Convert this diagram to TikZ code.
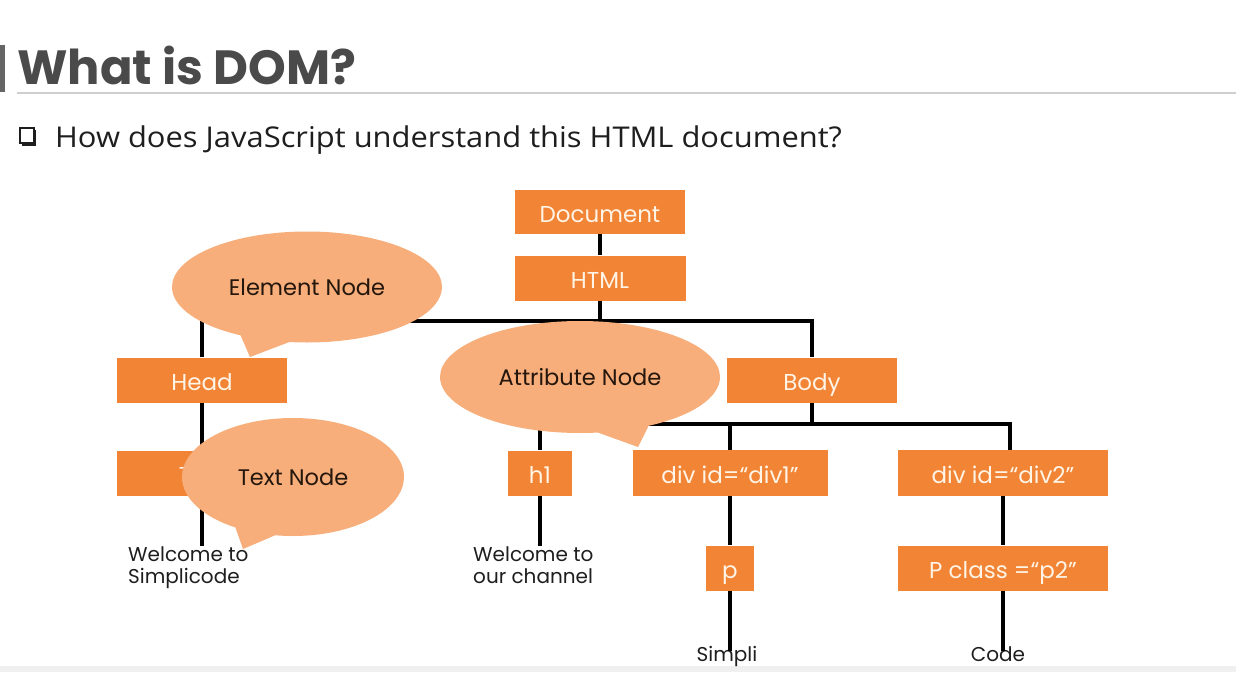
\documentclass[tikz,border=0pt]{standalone}
\usepackage{fontspec}
\setmainfont{Poppins}
\newfontfamily\subfont{Open Sans}[FakeStretch=1.08]
\usetikzlibrary{shapes.callouts}
\definecolor{boxorange}{HTML}{F18435}
\definecolor{boxtext}{HTML}{FFF4E6}
\definecolor{bubblefill}{HTML}{F7AE7A}
\definecolor{bubbletext}{HTML}{24160C}
\definecolor{titlegray}{HTML}{4A4A4A}
\definecolor{leaftext}{HTML}{1E1E1E}
\definecolor{rulegray}{HTML}{CFCFCF}
\definecolor{footgray}{HTML}{F0F0F0}
\begin{document}
\begin{tikzpicture}[x=1pt,y=-1pt,
  box/.style={rectangle, fill=boxorange, text=boxtext, inner sep=0pt,
    text height=20pt, text depth=0pt,
    font=\fontsize{23}{26}\selectfont},
  link/.style={line width=3.6pt, draw=black, line join=miter},
  bubble/.style={ellipse callout, fill=bubblefill, text=bubbletext, inner sep=0pt,
    callout pointer arc=22, font=\fontsize{22.5}{26}\selectfont},
  leaf/.style={align=left, text=leaftext, inner sep=0pt,
    font=\fontsize{20}{22.5}\selectfont}]
\useasboundingbox (0,0) rectangle (1236,672);
\fill[white] (0,0) rectangle (1236,672);
\fill[footgray] (0,666) rectangle (1236,672);

% heading
\fill[titlegray!85] (0,45) rectangle (5,92);
\node[anchor=base west, text=titlegray, inner sep=0pt,
  font=\fontsize{48}{58}\selectfont\bfseries] (heading) at (17,84) {What is DOM?};
\draw[rulegray, line width=1.5pt] (17,93) -- (1236,93);

% question line with a checkbox bullet
\draw[leaftext, line width=1.4pt] (20,128) rectangle (34,143);
\fill[leaftext] (22,143) rectangle (36,146);
\fill[leaftext] (34,130) rectangle (36,146);
\node[anchor=base west, text=leaftext, inner sep=0pt,
  font=\subfont\fontsize{28.6}{32}\selectfont] (question) at (55,147)
  {How does JavaScript understand this HTML document?};

% tree boxes
\node[box, minimum width=170pt, minimum height=44pt] (doc)    at (600,212) {Document};
\node[box, minimum width=171pt, minimum height=45pt] (html)   at (600,278) {HTML};
\node[box, minimum width=170pt, minimum height=45pt] (head)   at (202,380) {Head};
\node[box, minimum width=170pt, minimum height=45pt] (body)   at (812,380) {Body};
\node[box, minimum width=170pt, minimum height=45pt] (title)  at (202,473) {Title};
\node[box, minimum width=64pt,  minimum height=45pt] (h1)     at (540,473) {h1};
\node[box, minimum width=195pt, minimum height=46pt] (div1)   at (730,473) {div id=“div1”};
\node[box, minimum width=210pt, minimum height=46pt] (div2)   at (1003,473) {div id=“div2”};
\node[box, minimum width=48pt,  minimum height=45pt] (p)      at (730,568) {p};
\node[box, minimum width=210pt, minimum height=45pt] (pclass) at (1003,568) {P class =“p2”};

% text leaves
\node[leaf, anchor=north west] (w1) at (128,546) {Welcome to\\Simplicode};
\node[leaf, anchor=north west] (w2) at (473,546) {Welcome to\\our channel};
\node[leaf, anchor=base] (simpli) at (727,661) {Simpli};
\node[leaf, anchor=base] (code)   at (998,661) {Code};

% connectors
\coordinate (hub)  at (600,321);
\coordinate (fork) at (812,424);
\draw[link] (doc.south) -- (html.north);
\draw[link] (html.south) -- (hub);
\draw[link] (head.north) |- (hub) -| (body.north);
\draw[link] (head.south) -- (title.north);
\draw[link] (title.south) -- (title.south |- w1.north);
\draw[link] (body.south) -- (fork);
\draw[link] (h1.north) |- (fork);
\draw[link] (fork) -| ([xshift=7pt]div2.north);
\draw[link] (div1.north) -- (div1.north |- fork);
\draw[link] (h1.south) -- (h1.south |- w2.north);
\draw[link] (div1.south) -- (p.north);
\draw[link] (p.south) -- ([yshift=-5pt]p.south |- simpli.north);
\draw[link] (div2.south) -- (pclass.north);
\draw[link] (pclass.south) -- ([yshift=-5pt]pclass.south |- code.north);

% speech bubbles
\node[bubble, minimum width=270pt, minimum height=111pt,
  callout absolute pointer={(250,357)}] (elem) at (307,287) {Element Node};
\node[bubble, minimum width=280pt, minimum height=112pt,
  callout absolute pointer={(638,447)}] (attr) at (580,377) {Attribute Node};
\node[bubble, minimum width=222pt, minimum height=118pt,
  callout absolute pointer={(243,549)}] (textn) at (293,477) {Text Node};
\end{tikzpicture}
\end{document}
